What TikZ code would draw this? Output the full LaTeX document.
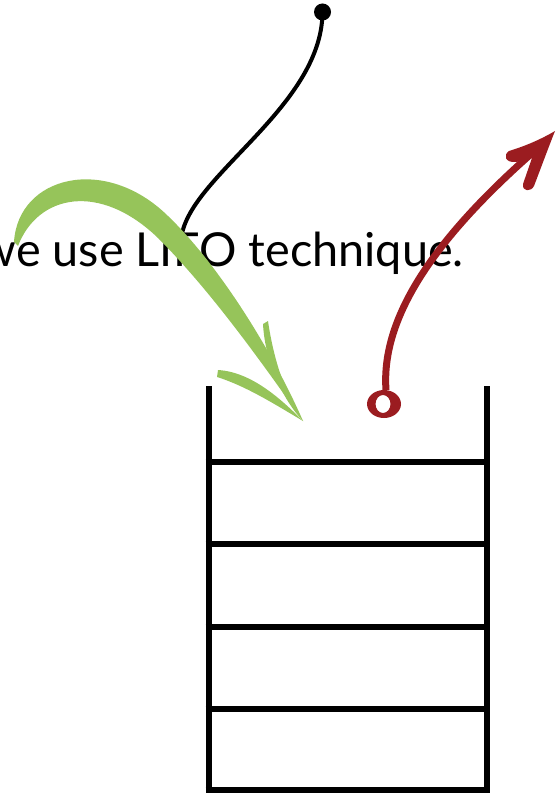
\documentclass[tikz,border=0pt]{standalone}
\usepackage{fontspec}
\setmainfont{Lato}
\definecolor{brushgreen}{RGB}{150,196,90}
\definecolor{brushred}{RGB}{155,28,32}
\begin{document}
\begin{tikzpicture}[x=1pt,y=-1pt,
  stackline/.style={line width=6pt,line cap=butt},
  wire/.style={line width=4pt},
  label/.style={inner sep=0pt,font=\fontsize{46.8}{52}\selectfont}]
\useasboundingbox (0,0) rectangle (555,794);
\clip (0,0) rectangle (555,794);
% stack
\coordinate (tl) at (208.5,386);
\coordinate (tr) at (486.5,386);
\coordinate (bl) at (208.5,793);
\coordinate (br) at (486.5,793);
\draw[stackline] (tl) -- (bl);
\draw[stackline] (tr) -- (br);
\foreach \y in {462,544,627,709,790}
  \draw[stackline] (205.5,\y) -- (489.5,\y);
% text
\node[label,anchor=base east] (t) at (464,266) {we use LIFO technique.};
% black wire
\coordinate (wend) at (181,243);
\node[circle,fill=black,inner sep=0pt,minimum size=17pt] (dot) at (322.5,12) {};
\draw[wire] (dot.center) .. controls (322,110) and (181,180) .. (wend);
% green brush arrow
\fill[brushgreen] (14,242) .. controls (18,176) and (105,154) .. (168,216)
  .. controls (218,264) and (272,350) .. (303,421)
  .. controls (260,360) and (210,290) .. (158,238)
  .. controls (100,182) and (38,194) .. (18,246) -- cycle;
\fill[brushgreen] (268,321) .. controls (274,362) and (286,396) .. (303,421)
  .. controls (283,400) and (265,362) .. (263,324) -- cycle;
\fill[brushgreen] (218,370) .. controls (252,372) and (282,400) .. (303,421)
  .. controls (276,405) and (246,386) .. (217,377) -- cycle;
% red arrow
\coordinate (rs) at (386,390);
\coordinate (rt) at (546,141);
\fill[brushred,even odd rule] (384,404) ellipse[x radius=17,y radius=14]
  (383,404) ellipse[x radius=7.5,y radius=9];
\draw[brushred,line width=7pt] (rs) .. controls (381,320) and (430,240) .. (rt);
\fill[brushred] (555,131) .. controls (538,141) and (522,147) .. (509,151)
  .. controls (503,155) and (505,163) .. (516,162)
  -- (532,158) -- (523,184)
  .. controls (522,192) and (531,192) .. (534,186)
  .. controls (542,165) and (549,146) .. (555,131) -- cycle;
\end{tikzpicture}
\end{document}
